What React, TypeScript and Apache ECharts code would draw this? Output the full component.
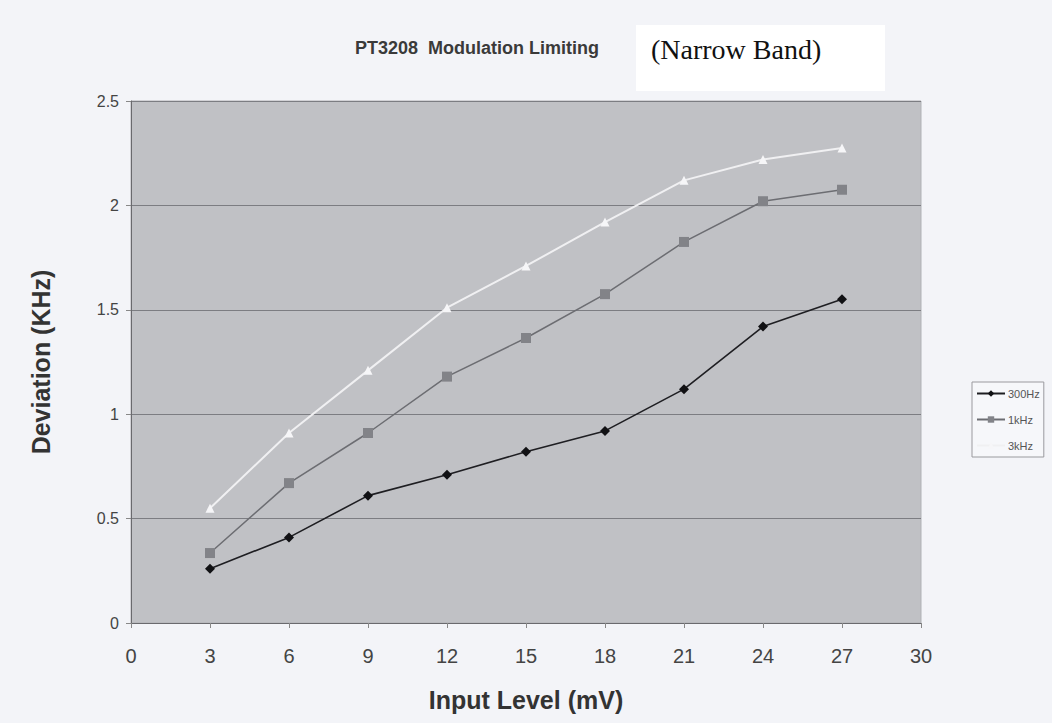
import React, { useEffect, useRef } from "react";
import * as echarts from "echarts";

const inputLevels = [3, 6, 9, 12, 15, 18, 21, 24, 27];
const dev300Hz = [0.26, 0.41, 0.61, 0.71, 0.82, 0.92, 1.12, 1.42, 1.55];
const dev1kHz = [0.335, 0.67, 0.91, 1.18, 1.365, 1.575, 1.825, 2.02, 2.075];
const dev3kHz = [0.55, 0.91, 1.21, 1.51, 1.71, 1.92, 2.12, 2.22, 2.275];
const seriesNames = ["300Hz", "1kHz", "3kHz"];

const pair = (ys: number[]) => inputLevels.map((x, i) => [x, ys[i]]);

export default function App() {
  const ref = useRef<HTMLDivElement>(null);
  useEffect(() => {
    if (!ref.current) return;
    const chart = echarts.init(ref.current, undefined, { renderer: "svg" });
    chart.setOption({
      animation: false,
      backgroundColor: "#f3f4f8",
      title: {
        text: "PT3208  Modulation Limiting",
        left: 350,
        top: 34,
        textStyle: { fontFamily: "Liberation Sans, Arial", fontSize: 18, fontWeight: "bold", color: "#3a3a3a" },
      },
      graphic: [
        { type: "rect", shape: { x: 636, y: 25, width: 249, height: 66 }, style: { fill: "#ffffff" } },
        {
          type: "text",
          x: 651,
          y: 35,
          style: { text: "(Narrow Band)", font: "28px 'Liberation Serif', 'Times New Roman', serif", fill: "#111" },
        },
      ],
      legend: {
        orient: "vertical",
        left: 972,
        top: 382,
        width: 50,
        padding: [6, 4, 6, 4],
        itemGap: 15,
        itemWidth: 28,
        itemHeight: 8,
        borderColor: "#9a9a9e",
        borderWidth: 1,
        backgroundColor: "#f6f7fa",
        data: seriesNames,
        textStyle: { fontFamily: "Liberation Sans, Arial", fontSize: 11, color: "#555", padding: [0, 0, 0, -2] },
      },
      grid: {
        left: 131,
        right: 131,
        top: 101,
        bottom: 100,
        show: true,
        backgroundColor: "#c0c1c5",
        borderColor: "#b0b1b5",
        borderWidth: 1,
      },
      xAxis: {
        type: "value",
        min: 0,
        max: 30,
        interval: 3,
        name: "Input Level (mV)",
        nameLocation: "middle",
        nameGap: 64,
        nameTextStyle: { fontFamily: "Liberation Sans, Arial", fontSize: 25, fontWeight: "bold", color: "#333" },
        axisLine: { lineStyle: { color: "#6a6a6e", width: 1 } },
        axisTick: { show: true, length: 5, lineStyle: { color: "#888" } },
        axisLabel: { fontFamily: "Liberation Sans, Arial", fontSize: 20, color: "#444", margin: 23 },
        splitLine: { show: false },
      },
      yAxis: {
        type: "value",
        min: 0,
        max: 2.5,
        interval: 0.5,
        name: "Deviation (KHz)",
        nameLocation: "middle",
        nameGap: 78,
        nameTextStyle: { fontFamily: "Liberation Sans, Arial", fontSize: 25, fontWeight: "bold", color: "#333" },
        axisLine: { show: true, lineStyle: { color: "#6a6a6e", width: 1 } },
        axisTick: { show: true, length: 5, lineStyle: { color: "#888" } },
        axisLabel: { fontFamily: "Liberation Sans, Arial", fontSize: 16, color: "#444", margin: 12 },
        splitLine: { show: true, lineStyle: { color: "#7c7d82", width: 1 } },
      },
      series: [
        {
          name: seriesNames[0],
          type: "line",
          data: pair(dev300Hz),
          symbol: "diamond",
          symbolSize: 10,
          lineStyle: { color: "#1e1e22", width: 1.6 },
          itemStyle: { color: "#111114" },
        },
        {
          name: seriesNames[1],
          type: "line",
          data: pair(dev1kHz),
          symbol: "rect",
          symbolSize: 10,
          lineStyle: { color: "#6c6d72", width: 1.5 },
          itemStyle: { color: "#828388" },
        },
        {
          name: seriesNames[2],
          type: "line",
          data: pair(dev3kHz),
          symbol: "triangle",
          symbolSize: 9,
          lineStyle: { color: "#f0f0f2", width: 2 },
          itemStyle: { color: "#f6f6f8" },
        },
      ],
    });
    return () => chart.dispose();
  }, []);
  return <div ref={ref} style={{ position: "absolute", left: 0, top: 0, width: 1052, height: 723 }} />;
}
